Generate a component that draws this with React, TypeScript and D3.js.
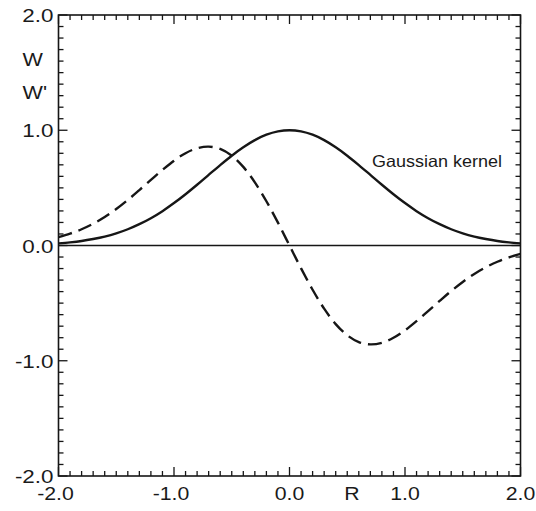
import React from "react";
import * as d3 from "d3";

// Sample positions along R and the kernel values read at each of them
const rValues = [
  -2.0, -1.9, -1.8, -1.7, -1.6, -1.5, -1.4, -1.3, -1.2, -1.1, -1.0, -0.9, -0.8, -0.7,
  -0.6, -0.5, -0.4, -0.3, -0.2, -0.1, 0.0, 0.1, 0.2, 0.3, 0.4, 0.5, 0.6, 0.7, 0.8, 0.9,
  1.0, 1.1, 1.2, 1.3, 1.4, 1.5, 1.6, 1.7, 1.8, 1.9, 2.0,
];
// W: the Gaussian kernel (solid)
const wValues = [
  0.018, 0.027, 0.039, 0.056, 0.077, 0.105, 0.141, 0.185, 0.237, 0.298, 0.368, 0.445,
  0.527, 0.613, 0.698, 0.779, 0.852, 0.914, 0.961, 0.99, 1.0, 0.99, 0.961, 0.914, 0.852,
  0.779, 0.698, 0.613, 0.527, 0.445, 0.368, 0.298, 0.237, 0.185, 0.141, 0.105, 0.077,
  0.056, 0.039, 0.027, 0.018,
];
// W': its derivative (dashed)
const dwValues = [
  0.073, 0.103, 0.141, 0.189, 0.247, 0.316, 0.395, 0.481, 0.569, 0.656, 0.736, 0.801,
  0.844, 0.858, 0.838, 0.779, 0.682, 0.548, 0.384, 0.198, 0.0, -0.198, -0.384, -0.548,
  -0.682, -0.779, -0.838, -0.858, -0.844, -0.801, -0.736, -0.656, -0.569, -0.481, -0.395,
  -0.316, -0.247, -0.189, -0.141, -0.103, -0.073,
];

const xTickLabels = ["-2.0", "-1.0", "0.0", "1.0", "2.0"];
const yTickLabels = ["-2.0", "-1.0", "0.0", "1.0", "2.0"];
const curveLabel = "Gaussian kernel";

const W = 536;
const H = 511;
const left = 58.5;
const right = 520.5;
const top = 15;
const bottom = 476;
const ink = "#161616";
const font = "'Liberation Sans', Arial, Helvetica, sans-serif";

export default function App() {
  const x = d3.scaleLinear().domain([-2, 2]).range([left, right]);
  const y = d3.scaleLinear().domain([-2, 2]).range([bottom, top]);

  const line = d3
    .line<number>()
    .x((_, i) => x(rValues[i]))
    .y((v) => y(v))
    .curve(d3.curveCatmullRom.alpha(0.5));

  const minor = d3.range(-20, 21).map((k) => k / 10);
  const isMajor = (v: number) => Math.abs(v - Math.round(v)) < 1e-9;

  const ticks: React.ReactNode[] = [];
  minor.forEach((v, i) => {
    const len = isMajor(v) ? 9 : 5;
    const px = x(v);
    const py = y(v);
    ticks.push(
      <line key={`b${i}`} x1={px} x2={px} y1={bottom} y2={bottom - len} />,
      <line key={`t${i}`} x1={px} x2={px} y1={top} y2={top + len} />,
      <line key={`l${i}`} x1={left} x2={left + len} y1={py} y2={py} />,
      <line key={`r${i}`} x1={right} x2={right - len} y1={py} y2={py} />
    );
  });

  return (
    <svg
      width={W}
      height={H}
      style={{ position: "fixed", left: 0, top: 0, background: "#fff" }}
      fontFamily={font}
    >
      <rect x={0} y={0} width={W} height={H} fill="#fff" />

      {/* zero line */}
      <line x1={left} x2={right} y1={y(0)} y2={y(0)} stroke={ink} strokeWidth={1.3} />

      {/* curves */}
      <path d={line(wValues) ?? ""} fill="none" stroke={ink} strokeWidth={2.4} />
      <path
        d={line(dwValues) ?? ""}
        fill="none"
        stroke={ink}
        strokeWidth={2.4}
        strokeDasharray="14 7"
      />

      {/* frame and ticks */}
      <g stroke={ink} strokeWidth={1.3}>{ticks}</g>
      <rect
        x={left}
        y={top}
        width={right - left}
        height={bottom - top}
        fill="none"
        stroke={ink}
        strokeWidth={1.6}
      />

      {/* tick labels */}
      <g fill="#1a1a1a" fontSize={19}>
        {yTickLabels.map((t) => (
          <text
            key={`yl${t}`}
            textAnchor="end"
            transform={`translate(${left - 5},${y(parseFloat(t)) + 7}) scale(1.18,1)`}
          >
            {t}
          </text>
        ))}
        {xTickLabels.map((t) => (
          <text
            key={`xl${t}`}
            textAnchor="middle"
            transform={`translate(${x(parseFloat(t)) - (t.startsWith("-") ? 3 : 0)},${bottom + 24}) scale(1.12,1)`}
          >
            {t}
          </text>
        ))}
      </g>

      {/* axis titles */}
      <g fill="#1a1a1a" fontSize={18}>
        <text transform={`translate(22.5,65.5) scale(1.2,1)`}>W</text>
        <text transform={`translate(22.5,98.5) scale(1.2,1)`}>W'</text>
        <text textAnchor="middle" transform={`translate(352,500) scale(1.12,1)`} fontSize={19}>
          R
        </text>
      </g>

      <text x={372} y={167} fontSize={16.5} fill="#1a1a1a" textLength={130} lengthAdjust="spacingAndGlyphs">
        {curveLabel}
      </text>
    </svg>
  );
}
